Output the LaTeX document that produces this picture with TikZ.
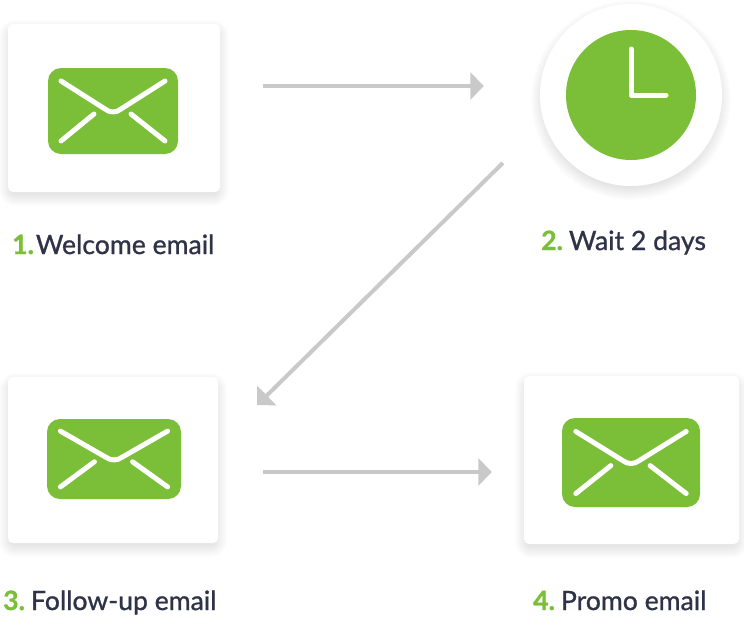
\documentclass[tikz,border=0pt]{standalone}
\usepackage{fontspec}
\setmainfont{Lato}
\newfontfamily\capfont[RawFeature={embolden=1.0}]{Lato}
\usetikzlibrary{positioning}
\usetikzlibrary{arrows.meta}
\usetikzlibrary{backgrounds}
\definecolor{mailgreen}{HTML}{7ABF37}
\definecolor{arrowgray}{HTML}{C9C9C9}
\definecolor{textdark}{HTML}{2E3347}
\tikzset{
	card/.style={rectangle,fill=white,rounded corners=5,inner sep=0pt},
	envbody/.style={rectangle,fill=mailgreen,rounded corners=13,inner sep=0pt},
	flap/.style={draw=white,line width=5,line cap=round,line join=round},
	flow/.style={draw=arrowgray,line width=4,-{Triangle[length=13.5,width=27]}},
	caption/.style={anchor=base west,inner sep=0pt,text=textdark,font=\capfont\fontsize{26.6}{30}\selectfont},
}
\newcommand{\stepno}[2][6pt]{\textcolor{mailgreen}{\textbf{#2}}\kern#1}
% soft shadow under a named shape
\newcommand{\softshadow}[1]{
	\begin{scope}[on background layer]
		\foreach \s in {-4,...,9} {
			\fill[black,opacity=0.006,rounded corners=8+\s]
				([shift={(-\s,5-\s)}]#1.north west) rectangle ([shift={(\s,5+\s)}]#1.south east);
		}
	\end{scope}
}
% envelope: name, centre, width, height
\newcommand{\envelope}[4]{
	\node[envbody,minimum width=#3,minimum height=#4] (#1) at #2 {};
	\begin{scope}[shift={(#1.center)},xscale=#3/130,yscale=#4/86]
		\draw[flap] (-52,-30) -- (-8,-2) .. controls (-3,2) and (3,2) .. (8,-2) -- (52,-30);
		\draw[flap] (-52,30) -- (-19,3);
		\draw[flap] (52,30) -- (18,3);
	\end{scope}
}
\begin{document}
\begin{tikzpicture}[x=1pt,y=-1pt]
	\useasboundingbox (0,0) rectangle (744,616);

	\node[card,minimum width=212,minimum height=168] (welcome) at (114,108) {};
	\softshadow{welcome}
	\envelope{welcomeenv}{(113,111)}{130}{86}

	\node[circle,fill=white,minimum size=182,inner sep=0pt] (clockface) at (631,95) {};
	\begin{scope}[on background layer]
		\foreach \s in {-4,...,9} {
			\fill[black,opacity=0.006] ([shift={(0,5)}]clockface.center) circle (91+\s);
		}
	\end{scope}
	\node[circle,fill=mailgreen,minimum size=130,inner sep=0pt] (clock) at (clockface.center) {};
	\draw[flap] ([shift={(0,-46)}]clock.center) -- (clock.center) -- ([shift={(35,0)}]clock.center);

	\node[card,minimum width=210,minimum height=166] (followup) at (113,460) {};
	\softshadow{followup}
	\envelope{followupenv}{(114,459)}{134}{80}

	\node[card,minimum width=215,minimum height=168] (promo) at (631.5,460) {};
	\softshadow{promo}
	\envelope{promoenv}{(631,462.5)}{138}{89}

	\draw[flow] ([shift={(43,-22)}]welcome.east) -- ([shift={(-56,-9)}]clockface.west);
	\draw[flow] ([shift={(-37,68)}]clockface.west) -- ([shift={(39,-55)}]followup.east);
	\draw[flow] ([shift={(45,12)}]followup.east) -- ([shift={(-32,12)}]promo.west);

	\node[caption] (welcomelabel) at (12,254) {\stepno[2pt]{1.} Welcome email};
	\node[caption] (waitlabel) at (541,250) {\stepno{2.} Wait 2 days};
	\node[caption] (followuplabel) at (3,610) {\stepno{3.} Follow-up email};
	\node[caption] (promolabel) at (533,610) {\stepno{4.} Promo email};
\end{tikzpicture}
\end{document}
